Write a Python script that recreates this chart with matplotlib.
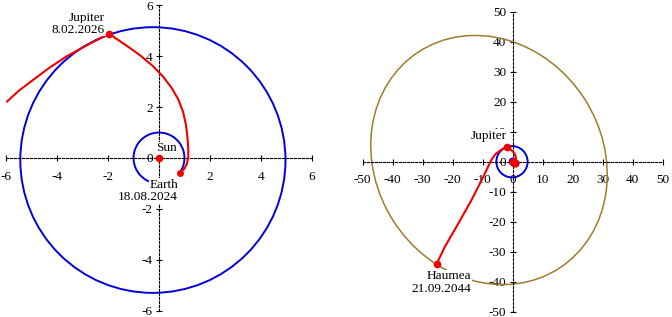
import matplotlib
matplotlib.use('Agg')
import matplotlib.pyplot as plt
from matplotlib.patches import Arc, Ellipse

plt.rcParams['font.family'] = ['Liberation Serif', 'DejaVu Serif']
plt.rcParams['font.size'] = 9.5

BLUE = '#0000dd'
RED = '#ee0000'
GOLD = '#9b7d2a'

# positions (AU)
sun_pos = (0.0, 0.0)
earth_pos = (0.81, -0.59)
jupiter_pos = (-1.96, 4.88)
haumea_pos = (-25.3, -34.0)

# orbits: centre, half widths, tilt
earth_orbit = dict(center=(0.0, 0.0), rx=1.0, ry=1.0, angle=0.0)
jupiter_orbit = dict(center=(-0.24, -0.08), rx=5.21, ry=5.22, angle=0.0)
haumea_orbit = dict(center=(-7.9, 0.5), rx=43.0, ry=37.8, angle=123.0)
earth_arc = (-36, 258)   # part of Earth's orbit drawn on the left

# Earth -> Jupiter leg
leg1_x = [0.81, 1.0, 1.1, 1.15, 1.15, 1.12, 1.06, 0.95, 0.76, 0.5, 0.16, -0.25, -0.7, -1.15, -1.55, -1.96]
leg1_y = [-0.59, -0.42, -0.22, 0.05, 0.35, 0.8, 1.3, 1.8, 2.3, 2.75, 3.2, 3.62, 4.0, 4.33, 4.6, 4.88]

# Jupiter -> Haumea leg
leg2_x = [-1.96, -2.8, -3.62, -4.3, -4.93, -5.5, -5.97, -7.3, -9.8, -13.7, -18.1, -22.6, -25.3]
leg2_y = [4.88, 4.45, 4.0, 3.55, 3.08, 2.65, 2.22, 0.2, -5.1, -12.8, -20.6, -28.4, -34.0]

left_ticks = [-6, -4, -2, 0, 2, 4, 6]
left_xlabels = ['-6', '-4', '-2', '', '2', '4', '6']
left_ylabels = ['-6', '-4', '-2', '0', '2', '4', '6']
right_ticks = [-50, -40, -30, -20, -10, 0, 10, 20, 30, 40, 50]
right_labels = ['-50', '-40', '-30', '-20', '-10', '0', '10', '20', '30', '40', '50']

W, H = 672, 317
fig = plt.figure(figsize=(W / 100, H / 100), dpi=100)


def make_axes(px0, px1, ox, oy, scale):
    # axes spanning pixel columns px0..px1, data origin at pixel (ox, oy)
    ax = fig.add_axes([px0 / W, 0, (px1 - px0) / W, 1])
    ax.set_xlim((px0 - ox) / scale, (px1 - ox) / scale)
    ax.set_ylim((oy - H) / scale, oy / scale)
    ax.set_facecolor('none')
    for s in ['top', 'right']:
        ax.spines[s].set_visible(False)
    for s in ['left', 'bottom']:
        ax.spines[s].set_position(('data', 0))
        ax.spines[s].set_linestyle((0, (2, 1.6)))
        ax.spines[s].set_linewidth(0.8)
    ax.tick_params(direction='inout', length=5, width=0.8, labelsize=9.5)
    ax.tick_params(axis='x', pad=6.5)
    ax.tick_params(axis='y', pad=2)
    return ax


def orbit(ax, o, color, lw):
    ax.add_patch(Ellipse(o['center'], 2 * o['rx'], 2 * o['ry'], angle=o['angle'],
                         fill=False, color=color, lw=lw, zorder=2))


def label(ax, x, y, text, ha='right'):
    ax.text(x, y, text, ha=ha, va='baseline', fontsize=9.5, zorder=4,
            bbox=dict(facecolor='white', edgecolor='none', pad=0.6))


# ---- left: Earth -> Jupiter ----
ax1 = make_axes(0, 330, 159, 158, 25.45)
ax1.set_xticks(left_ticks, left_xlabels)
ax1.set_yticks(left_ticks, left_ylabels)
ax1.spines['left'].set_bounds(-6, 6)
ax1.spines['bottom'].set_bounds(-6, 6)

ax1.add_patch(Arc(earth_orbit['center'], 2, 2, theta1=earth_arc[0], theta2=earth_arc[1],
                  color=BLUE, lw=1.4, zorder=2))
orbit(ax1, jupiter_orbit, BLUE, 1.4)
lx = leg1_x + [x for x in leg2_x[1:] if x >= -6]
ly = leg1_y + [y for x, y in zip(leg2_x[1:], leg2_y[1:]) if x >= -6]
ax1.plot(lx, ly, color=RED, lw=1.5, zorder=3)
ax1.plot(*sun_pos, 'o', color=RED, ms=4.5, zorder=5)
ax1.plot(*earth_pos, 'o', color=RED, ms=4, zorder=5)
ax1.plot(*jupiter_pos, 'o', color=RED, ms=4.5, zorder=5)

label(ax1, 0.31, 0.26, 'Sun', ha='center')
label(ax1, 0.75, -1.18, 'Earth')
label(ax1, 0.75, -1.66, '18.08.2024')
label(ax1, -2.12, 5.4, 'Jupiter')
label(ax1, -2.12, 4.93, '8.02.2026')

# ---- right: Jupiter -> Haumea ----
ax2 = make_axes(340, 672, 512.7, 161.5, 3.0)
ax2.set_xticks(right_ticks, right_labels)
ax2.set_yticks(right_ticks, right_labels)
ax2.spines['left'].set_bounds(-50, 50)
ax2.spines['bottom'].set_bounds(-50, 50)

orbit(ax2, haumea_orbit, GOLD, 1.1)
orbit(ax2, jupiter_orbit, BLUE, 1.4)
orbit(ax2, earth_orbit, BLUE, 1.4)
ax2.plot(leg1_x + leg2_x[1:], leg1_y + leg2_y[1:], color=RED, lw=1.5, zorder=3)
ax2.plot(*sun_pos, 'o', color=RED, ms=5, zorder=5)
ax2.plot(*earth_pos, 'o', color=RED, ms=5, zorder=5)
ax2.plot(*jupiter_pos, 'o', color=RED, ms=4.5, zorder=5)
ax2.plot(*haumea_pos, 'o', color=RED, ms=4.5, zorder=5)

label(ax2, -1.9, 7.5, 'Jupiter')
label(ax2, -13.7, -39.3, 'Haumea')
label(ax2, -13.7, -43.4, '21.09.2044')

fig.savefig('out.png', dpi=100)
